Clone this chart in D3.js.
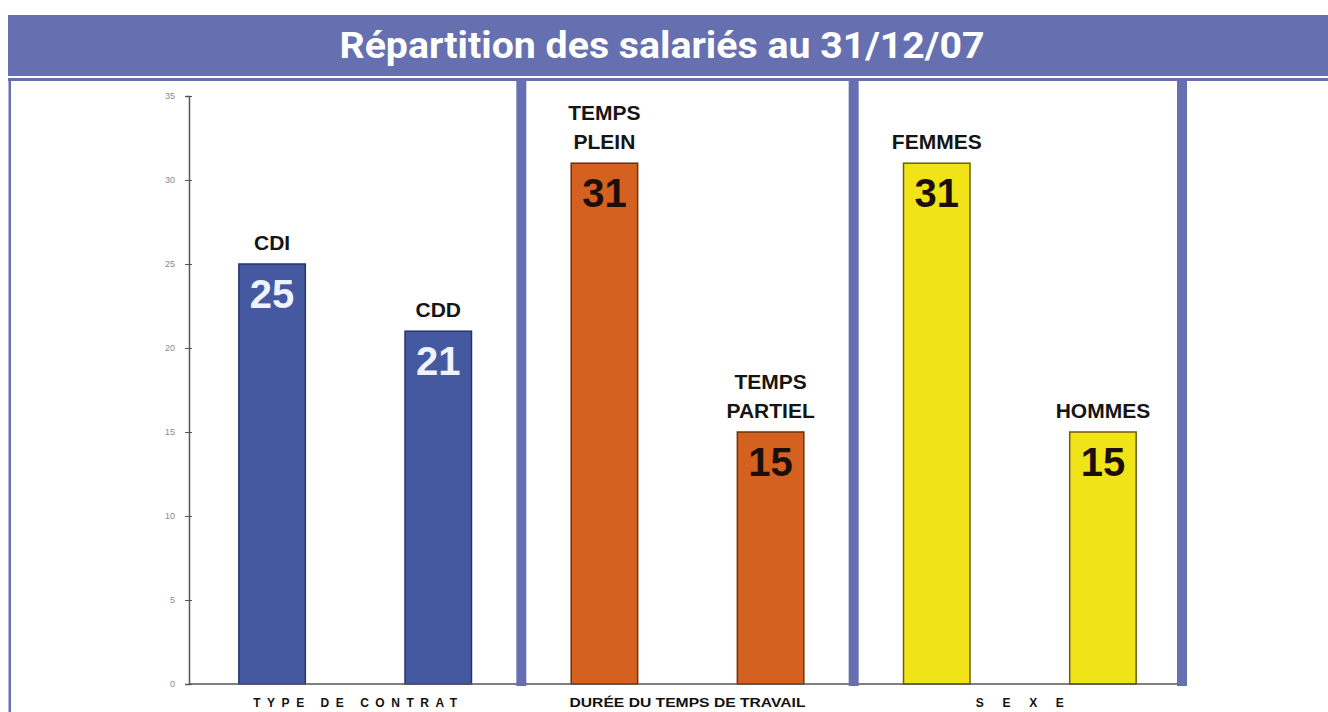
<!DOCTYPE html>
<html>
<head>
<meta charset="utf-8">
<script src="https://cdn.jsdelivr.net/npm/d3@7"></script>
<style>
  html, body { margin: 0; padding: 0; background: #ffffff; }
  svg { display: block; }
</style>
</head>
<body>
<svg id="chart" width="1328" height="712"></svg>
<script>
// ---- data ----
const titleText = "Répartition des salariés au 31/12/07";
const categories = ["CDI", "CDD", "TEMPS PLEIN", "TEMPS PARTIEL", "FEMMES", "HOMMES"];
const labelLines = [["CDI"], ["CDD"], ["TEMPS", "PLEIN"], ["TEMPS", "PARTIEL"], ["FEMMES"], ["HOMMES"]];
const values = [25, 21, 31, 15, 31, 15];
const groupOf = [0, 0, 1, 1, 2, 2];
const groups = ["TYPE DE CONTRAT", "DURÉE DU TEMPS DE TRAVAIL", "SEXE"];
const yTicks = [0, 5, 10, 15, 20, 25, 30, 35];

// ---- styles ----
const accent = "#6670b0";
const groupFill = ["#4459a0", "#d4611f", "#f0e318"];
const groupStroke = ["#26356b", "#6b3010", "#6b5e10"];
const valueColor = ["#eef3ff", "#1c0e08", "#1c0e08"];
const groupLabelLen = [204, 236, 88];
const groupLabelAdjust = ["spacing", "spacingAndGlyphs", "spacing"];

const svg = d3.select("#chart");

// title bar
svg.append("rect").attr("x", 8).attr("y", 15).attr("width", 1320).attr("height", 61).attr("fill", accent);
svg.append("text").text(titleText)
  .attr("x", 662).attr("y", 58)
  .attr("text-anchor", "middle")
  .attr("font-family", "Roboto, 'Liberation Sans', sans-serif")
  .attr("font-weight", 700).attr("font-size", 37)
  .attr("textLength", 645).attr("lengthAdjust", "spacingAndGlyphs")
  .attr("fill", "#ffffff");

// frame lines
svg.append("rect").attr("x", 8).attr("y", 78).attr("width", 1320).attr("height", 3).attr("fill", accent);
svg.append("rect").attr("x", 8.5).attr("y", 78).attr("width", 2.5).attr("height", 634).attr("fill", accent);

// scales
const y = d3.scaleLinear().domain([0, 35]).range([684, 96]);
const x = d3.scaleBand().domain(categories).range([189, 1186]).paddingInner(0.6).paddingOuter(0.3);
const bw = x.bandwidth();
const step = x.step();

// y axis
const yAxis = d3.axisLeft(y).tickValues(yTicks).tickSize(4).tickPadding(10);
const gy = svg.append("g").attr("transform", "translate(189,0)").call(yAxis);
gy.select(".domain").attr("stroke", "#555").attr("stroke-width", 1.5);
gy.selectAll(".tick line").attr("stroke", "#555").attr("x2", -4).attr("x1", 3);
gy.selectAll(".tick text").attr("fill", "#8a8a8a").attr("font-size", 9)
  .attr("font-family", "'Liberation Sans', Arial, sans-serif");

// bars
svg.append("g").selectAll("rect").data(categories).join("rect")
  .attr("x", d => x(d))
  .attr("y", (d, i) => y(values[i]))
  .attr("width", bw)
  .attr("height", (d, i) => y(0) - y(values[i]))
  .attr("fill", (d, i) => groupFill[groupOf[i]])
  .attr("stroke", (d, i) => groupStroke[groupOf[i]])
  .attr("stroke-width", 1.5);

// x axis line
svg.append("line").attr("x1", 189).attr("x2", 1184).attr("y1", y(0)).attr("y2", y(0))
  .attr("stroke", "#555").attr("stroke-width", 1.5);

// group separators
const sepX = groups.map((g, k) => {
  const lastIdx = groupOf.lastIndexOf(k);
  return x(categories[lastIdx]) + bw + (step - bw) * 0.5;
});
svg.append("g").selectAll("rect").data(sepX).join("rect")
  .attr("x", (d, k) => d - 5 - (k === 2 ? 4 : 0)).attr("y", 81).attr("width", 10).attr("height", 605)
  .attr("fill", accent);

// category labels above bars
const catG = svg.append("g");
categories.forEach((c, i) => {
  const lines = labelLines[i];
  const cx = x(c) + bw / 2;
  const top = y(values[i]);
  lines.forEach((ln, j) => {
    catG.append("text").text(ln)
      .attr("x", cx)
      .attr("y", top - 14 - (lines.length - 1 - j) * 29)
      .attr("text-anchor", "middle")
      .attr("font-family", "'Liberation Sans', Arial, sans-serif")
      .attr("font-weight", 700).attr("font-size", 21)
      .attr("fill", "#151515");
  });
});

// value labels inside bars
svg.append("g").selectAll("text").data(categories).join("text")
  .text((d, i) => values[i])
  .attr("x", d => x(d) + bw / 2)
  .attr("y", (d, i) => y(values[i]) + 44)
  .attr("text-anchor", "middle")
  .attr("font-family", "'Liberation Sans', Arial, sans-serif")
  .attr("font-weight", 700).attr("font-size", 40)
  .attr("fill", (d, i) => valueColor[groupOf[i]]);

// group labels below axis
svg.append("g").selectAll("text").data(groups).join("text")
  .text(d => d)
  .attr("x", (d, k) => {
    const idx = groupOf.map((g, i) => g === k ? i : -1).filter(i => i >= 0);
    const a = x(categories[idx[0]]), b = x(categories[idx[idx.length - 1]]) + bw;
    return (a + b) / 2;
  })
  .attr("y", 707)
  .attr("text-anchor", "middle")
  .attr("font-family", "'Liberation Sans', Arial, sans-serif")
  .attr("font-weight", 700).attr("font-size", 12)
  .attr("textLength", (d, k) => groupLabelLen[k])
  .attr("lengthAdjust", (d, k) => groupLabelAdjust[k])
  .attr("fill", "#111111");
</script>
</body>
</html>
